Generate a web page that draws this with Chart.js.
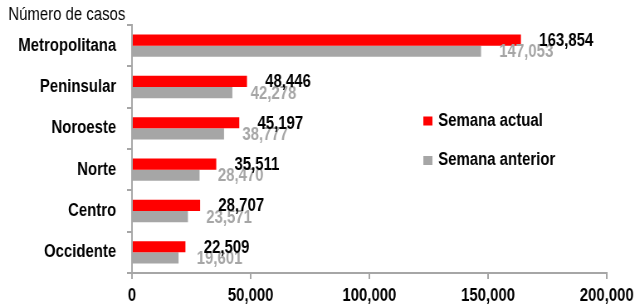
<!DOCTYPE html>
<html lang="es">
<head>
    <meta charset="UTF-8">
    <title>Número de casos por región</title>
    <script src="https://cdn.jsdelivr.net/npm/chart.js@4.4.0/dist/chart.umd.min.js"></script>
    <style>
        html, body { margin: 0; padding: 0; background: #fff; overflow: hidden; }
        /* the original is horizontally squeezed, so draw wider and squeeze it */
        #wrapper {
            width: 764px;
            height: 306px;
            position: relative;
            transform: scaleX(0.83);
            transform-origin: left top;
        }
    </style>
</head>
<body>

    <div id="wrapper">
        <canvas id="casosChart"></canvas>
    </div>

    <script>

        const regiones = ['Metropolitana', 'Peninsular', 'Noroeste', 'Norte', 'Centro', 'Occidente'];
        const semanaActual = [163854, 48446, 45197, 35511, 28707, 22509];
        const semanaAnterior = [147053, 42278, 38777, 28470, 23571, 19601];
        const xTicks = [0, 50000, 100000, 150000, 200000];

        const FONT = "'Liberation Sans', Arial, sans-serif";
        const RED = '#ff0000';
        const GRAY = '#a6a6a6';
        const AXIS = '#a6a6a6';

        function fmt(n) {
            return n.toLocaleString('en-US');
        }

        // value labels next to each bar, gray ones first so black sits on top
        const valueLabels = {
            id: 'valueLabels',
            afterDatasetsDraw(chart) {
                const ctx = chart.ctx;
                ctx.save();
                ctx.font = 'bold 18px ' + FONT;
                ctx.textBaseline = 'middle';
                ctx.textAlign = 'left';
                for (let d = chart.data.datasets.length - 1; d >= 0; d--) {
                    const ds = chart.data.datasets[d];
                    const meta = chart.getDatasetMeta(d);
                    ctx.fillStyle = ds.labelColor;
                    meta.data.forEach((bar, i) => {
                        ctx.fillText(fmt(ds.data[i]), bar.x + 22, bar.y + 1);
                    });
                }
                ctx.restore();
            }
        };

        // axis caption on top left and legend inside the plot
        const extras = {
            id: 'extras',
            afterDraw(chart) {
                const ctx = chart.ctx;
                ctx.save();
                ctx.fillStyle = '#000';
                ctx.font = '18px ' + FONT;
                ctx.textBaseline = 'alphabetic';
                ctx.fillText('Número de casos', 10, 20);

                ctx.font = 'bold 18px ' + FONT;
                ctx.textBaseline = 'middle';
                chart.data.datasets.forEach((ds, i) => {
                    const y = 121 + i * 39.5;
                    ctx.fillStyle = ds.backgroundColor;
                    ctx.fillRect(510, y - 4.5, 11, 9);
                    ctx.fillStyle = '#000';
                    ctx.fillText(ds.label, 528, y);
                });
                ctx.restore();
            }
        };

        const data = {
            labels: regiones,
            datasets: [{
                label: 'Semana actual',
                data: semanaActual,
                backgroundColor: RED,
                labelColor: '#000'
            }, {
                label: 'Semana anterior',
                data: semanaAnterior,
                backgroundColor: GRAY,
                labelColor: GRAY
            }]
        };

        const ctx = document.getElementById('casosChart').getContext('2d');
        const casosChart = new Chart(ctx, {
            type: 'bar',
            data: data,
            plugins: [valueLabels, extras],
            options: {
                indexAxis: 'y',
                responsive: true,
                maintainAspectRatio: false,
                animation: false,
                categoryPercentage: 0.54,
                barPercentage: 1,
                layout: {
                    padding: { top: 25, right: 33, left: 0, bottom: 0 }
                },
                plugins: {
                    legend: { display: false },
                    tooltip: { enabled: false }
                },
                scales: {
                    x: {
                        min: 0,
                        max: 200000,
                        afterBuildTicks: (scale) => {
                            scale.ticks = xTicks.map(v => ({ value: v }));
                        },
                        afterFit: (scale) => {
                            scale.height = 33;
                            scale.paddingLeft = 0;
                            scale.paddingRight = 0;
                        },
                        border: { display: true, color: AXIS, width: 2 },
                        grid: {
                            display: true,
                            drawOnChartArea: false,
                            drawTicks: true,
                            tickLength: 6,
                            color: AXIS,
                            lineWidth: 2
                        },
                        ticks: {
                            color: '#000',
                            padding: 6,
                            font: { family: FONT, size: 18, weight: 'bold' },
                            callback: (v) => fmt(v),
                            maxRotation: 0
                        }
                    },
                    y: {
                        afterFit: (scale) => {
                            scale.width = 159;
                            scale.paddingTop = 0;
                            scale.paddingBottom = 0;
                        },
                        border: { display: true, color: AXIS, width: 2 },
                        grid: {
                            display: true,
                            drawOnChartArea: false,
                            drawTicks: true,
                            tickLength: 6,
                            color: AXIS,
                            lineWidth: 2
                        },
                        ticks: {
                            color: '#000',
                            padding: 13,
                            font: { family: FONT, size: 18, weight: 'bold' }
                        }
                    }
                }
            }
        });

    </script>

</body>
</html>
